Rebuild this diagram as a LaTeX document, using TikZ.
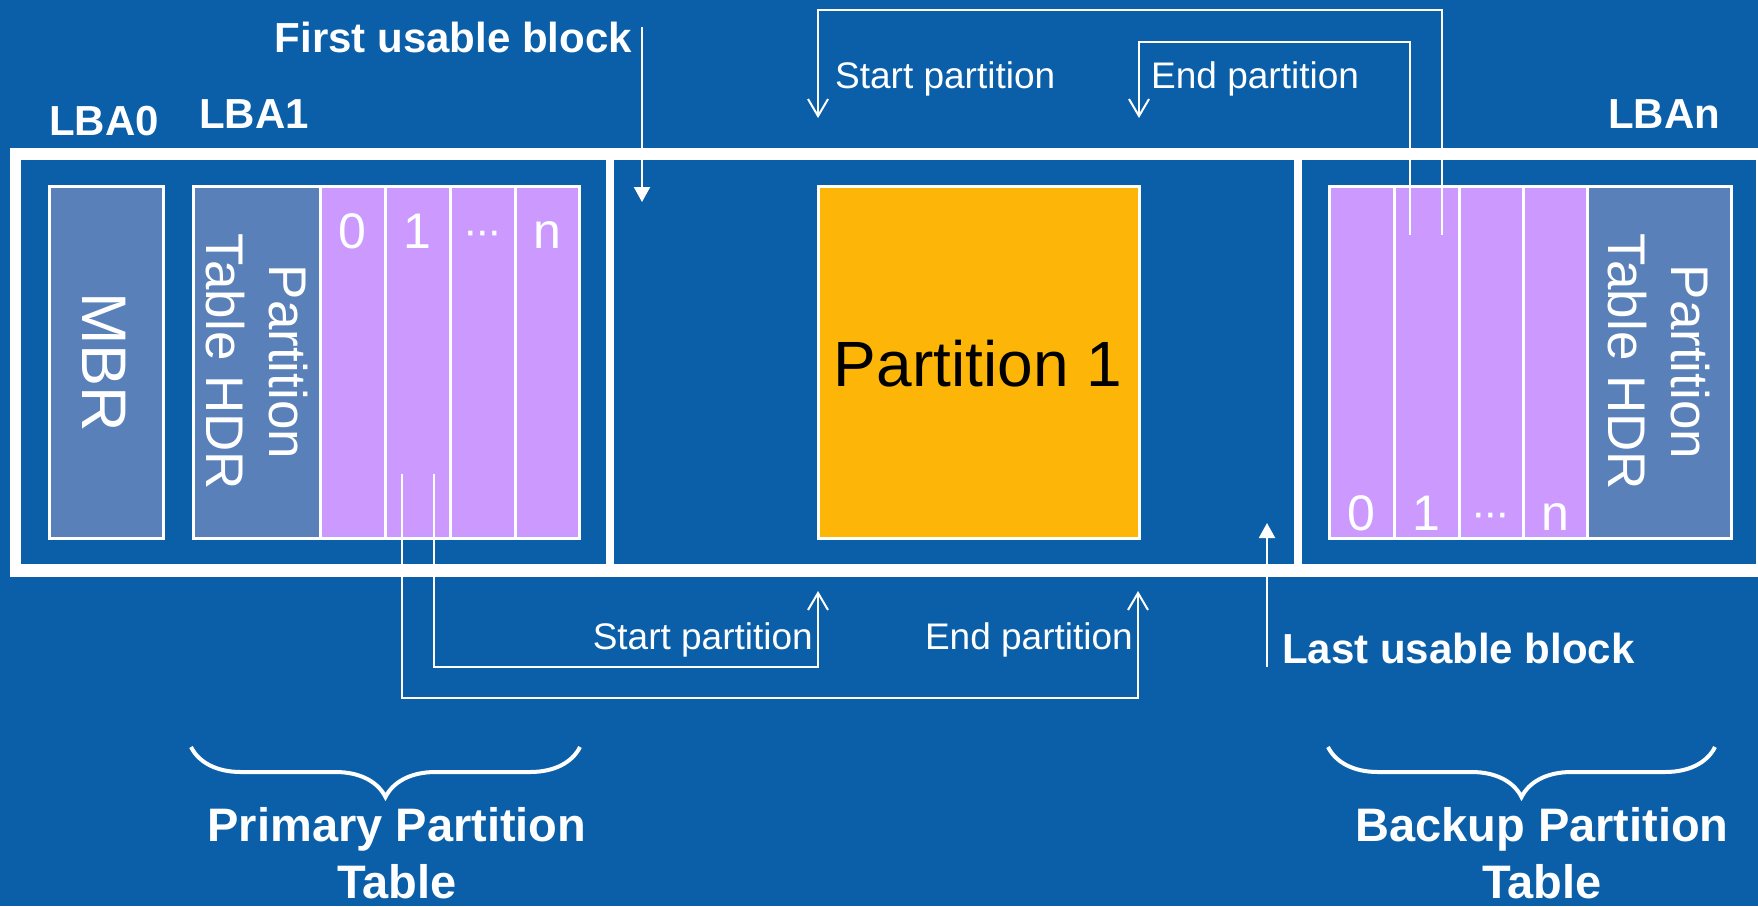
\documentclass[tikz,border=0pt]{standalone}
\usepackage{fontspec}
\setmainfont{Liberation Sans}
\usetikzlibrary{arrows.meta,decorations.pathreplacing}
\definecolor{bg}{HTML}{0A5FA8}
\definecolor{hdrblue}{HTML}{5A80B9}
\definecolor{lav}{HTML}{CC99FF}
\definecolor{amber}{HTML}{FDB507}
\newcommand{\pxfont}[2]{\fontsize{#1}{#2}\selectfont}
\begin{document}
\begin{tikzpicture}[x=1pt,y=-1pt,
  panel/.style={anchor=north west, inner sep=0, outer sep=0, fill=bg, minimum height=404},
  cellbox/.style={anchor=north west, inner sep=0, outer sep=0, draw=white, line width=3pt, minimum height=352},
  hdr/.style={cellbox, fill=hdrblue},
  ent/.style={cellbox, fill=lav},
  digit/.style={anchor=base, inner sep=0, text=white, font=\pxfont{50}{60}},
  rot/.style={rotate=-90, align=center, inner sep=0, text=white},
  lba/.style={anchor=base west, inner sep=0, text=white, font=\bfseries\pxfont{42}{50}},
  usable/.style={inner sep=0, text=white, font=\bfseries\pxfont{42}{50}},
  small/.style={inner sep=0, text=white, font=\pxfont{37}{44}},
  pconn/.style={draw=white, line width=2pt, -{Straight Barb[length=17pt,width=20pt,line width=2pt]}},
  uconn/.style={draw=white, line width=2pt, -{Triangle[length=15pt,width=16pt]}},
  bracestyle/.style={draw=white, line width=4pt, decorate, decoration={brace, amplitude=50pt, mirror}},
  tabletitle/.style={align=center, inner sep=0, text=white, font=\bfseries\pxfont{47}{57}}
]
\useasboundingbox (0,0) rectangle (1758,906);
\fill[bg] (0,0) rectangle (1758,906);

% white frame
\node[anchor=north west, inner sep=0, outer sep=0, fill=white, minimum width=1748, minimum height=429] (frame) at (10,148) {};
\node[panel, minimum width=585] (secL) at (21,160) {};
\node[panel, minimum width=680] (secM) at (614,160) {};
\node[panel, minimum width=454] (secR) at (1302,160) {};

% primary side
\node[hdr, minimum width=114] (mbr) at (49,186) {};
\node[hdr, minimum width=127] (phdr) at (193,186) {};
\node[ent, minimum width=65] (p0) at (320,186) {};
\node[ent, minimum width=65] (p1) at (385,186) {};
\node[ent, minimum width=65] (p2) at (450,186) {};
\node[ent, minimum width=64] (pn) at (515,186) {};

\node[rot, font=\pxfont{63}{70}] (mbrt) at (104,362) {MBR};
\node[rot, font=\pxfont{53}{63}] (phdrt) at (256.5,362) {Partition\\Table HDR};
\node[digit] (p0t) at (352.5,248) {0};
\node[digit] (p1t) at (417.5,248) {1};
\node[digit] (p2t) at (482.5,248) {\raisebox{3pt}{\pxfont{44}{44}·\kern-2.5pt·\kern-2.5pt·}};
\node[digit] (pnt) at (547,248) {n};

% partition 1
\node[cellbox, fill=amber, minimum width=321] (part1) at (818,186) {};
\node[inner sep=0, text=black, font=\pxfont{64}{70}] (part1t) at (978,364) {Partition 1};

% backup side
\node[ent, minimum width=65] (b0) at (1329,186) {};
\node[ent, minimum width=65] (b1) at (1394,186) {};
\node[ent, minimum width=64] (b2) at (1459,186) {};
\node[ent, minimum width=64] (bn) at (1523,186) {};
\node[hdr, minimum width=144] (bhdr) at (1587,186) {};
\node[rot, font=\pxfont{53}{63}] (bhdrt) at (1659,362) {Partition\\Table HDR};
\node[digit] (b0t) at (1361.5,530) {0};
\node[digit] (b1t) at (1426.5,530) {1};
\node[digit] (b2t) at (1491,530) {\raisebox{3pt}{\pxfont{44}{44}·\kern-2.5pt·\kern-2.5pt·}};
\node[digit] (bnt) at (1555,530) {n};

% LBA labels
\node[lba] (lba0) at (49,135) {LBA0};
\node[lba] (lba1) at (199,128) {LBA1};
\node[lba] (lban) at (1608,128) {LBAn};

% usable block arrows
\node[usable, anchor=base east] (fub) at (632,52) {First usable block};
\coordinate (fubs) at (642,27);
\coordinate (fube) at (642,202);
\draw[uconn] (fubs) -- (fube);
\node[usable, anchor=base west] (lub) at (1282,663) {Last usable block};
\coordinate (lubs) at (1267,667);
\coordinate (lube) at (1267,523);
\draw[uconn] (lubs) -- (lube);

% primary entry pointers
\coordinate (ps1) at (402,474);
\coordinate (ps2) at (434,474);
\coordinate (pl1) at (402,698);
\coordinate (pl2) at (434,667);
\coordinate (pstart) at (818,591);
\coordinate (pend) at (1138,591);
\draw[pconn] (ps1) -- (pl1) -| (pend);
\draw[pconn] (ps2) -- (pl2) -| (pstart);
\node[small, anchor=base east] (pstartt) at (813,649) {Start partition};
\node[small, anchor=base east] (pendt) at (1133,649) {End partition};

% backup entry pointers
\coordinate (bs1) at (1442,235);
\coordinate (bs2) at (1410,235);
\coordinate (bh1) at (1442,10);
\coordinate (bh2) at (1410,42);
\coordinate (bstart) at (818,118);
\coordinate (bend) at (1139,118);
\draw[pconn] (bs1) -- (bh1) -| (bstart);
\draw[pconn] (bs2) -- (bh2) -| (bend);
\node[small, anchor=base west] (bstartt) at (835,88) {Start partition};
\node[small, anchor=base west] (bendt) at (1151,88) {End partition};

% braces
\coordinate (brL1) at (191,747);
\coordinate (brL2) at (580,747);
\coordinate (brR1) at (1328,747);
\coordinate (brR2) at (1715,747);
\draw[bracestyle] (brL1) -- (brL2);
\draw[bracestyle] (brR1) -- (brR2);
\node[tabletitle, anchor=north] (prim) at (397,807) {Primary Partition\\Table};
\node[tabletitle, anchor=north] (back) at (1542,807) {Backup Partition\\Table};
\end{tikzpicture}
\end{document}
